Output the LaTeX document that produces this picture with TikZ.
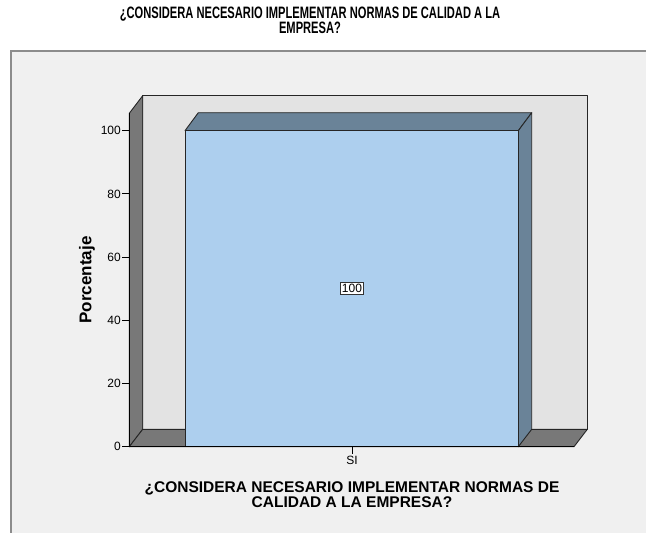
\documentclass[tikz,border=0pt]{standalone}
\usepackage{fontspec}
\setmainfont{Liberation Sans}
\usepackage{tikz}
\definecolor{panel}{HTML}{F0F0F0}
\definecolor{wall}{HTML}{E3E3E3}
\definecolor{side}{HTML}{787878}
\definecolor{barface}{HTML}{ADCFEE}
\definecolor{bartop}{HTML}{6A8398}
\newcommand{\narrow}[1]{\scalebox{0.675}[1]{#1}}

\begin{document}
\begin{tikzpicture}[x=1pt,y=-1pt]
  \tikzset{edge/.style = {draw=black!85, line width=0.9pt, line join=round},
           ticklab/.style = {left, inner sep=1pt, font=\fontsize{12}{13}\selectfont}}
  \useasboundingbox (0,0) rectangle (646,533);
  \begin{scope}
    \clip (0,0) rectangle (646,533);
    \draw[fill=panel, draw=black!45, line width=1.2pt] (11,51) rectangle (660,548);
  \end{scope}
  % title
  \node[align=center, inner sep=0pt, font=\bfseries\fontsize{16.5}{14.3}\selectfont] (title) at (310,20)
    {\narrow{¿CONSIDERA NECESARIO IMPLEMENTAR NORMAS DE CALIDAD A LA}\\\narrow{EMPRESA?}};
  % walls and floor
  \draw[edge, fill=wall] (142.7,95.7) rectangle (587.3,429.3);
  \draw[edge, fill=side] (129.3,113.3) -- (142.7,95.7) -- (142.7,429.3) -- (129.3,446.7) -- cycle;
  \draw[edge, fill=side] (129.3,446.7) -- (142.7,429.3) -- (587.3,429.3) -- (574,446.7) -- cycle;
  % bar
  \draw[edge, fill=bartop] (185,130.7) -- (198.3,112.7) -- (531.7,112.7) -- (518.3,130.7) -- cycle;
  \draw[edge, fill=bartop] (518.3,130.7) -- (531.7,112.7) -- (531.7,429.3) -- (518.3,446.7) -- cycle;
  \draw[edge, fill=barface] (185,130.7) rectangle (518.3,446.7);
  \node[draw=black!80, fill=white, inner sep=1.5pt, font=\fontsize{12}{13}\selectfont] (val) at (352,288) {100};
  % axis
  \draw[line width=1.2pt] (129.3,113.3) -- (129.3,446.7) -- (574,446.7);
  \foreach \v in {0,20,...,100}
    \draw[line width=1pt] (129.3,{446.7-3.16*\v}) -- ++(-7,0) node[ticklab] {\v};
  \draw[line width=1pt] (352,446.7) -- (352,454) node[below, inner sep=1.5pt, font=\fontsize{12}{13}\selectfont] (si) {SI};
  \node[rotate=90, font=\bfseries\fontsize{17}{18}\selectfont] (ylab) at (87,280) {Porcentaje};
  \node[align=center, font=\bfseries\fontsize{15.5}{15}\selectfont] (xlab) at (352,495)
    {¿CONSIDERA NECESARIO IMPLEMENTAR NORMAS DE\\CALIDAD A LA EMPRESA?};
\end{tikzpicture}
\end{document}
